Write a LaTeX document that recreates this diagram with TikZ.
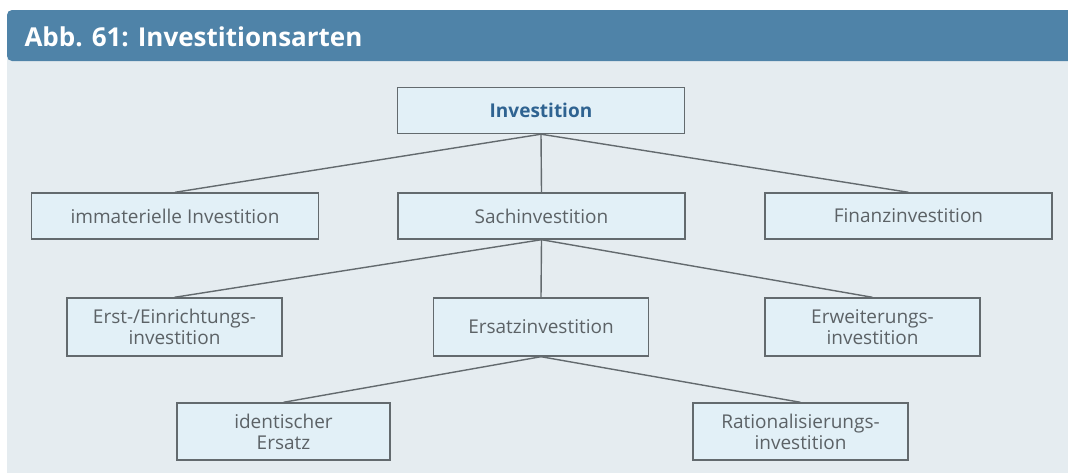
\documentclass[tikz,border=0pt]{standalone}
\usepackage{fontspec}
\setmainfont{Open Sans}
\definecolor{headblue}{HTML}{4F83A8}
\definecolor{panel}{HTML}{E5ECF0}
\definecolor{boxfill}{HTML}{E2F0F7}
\definecolor{boxline}{HTML}{636A6E}
\definecolor{txtgray}{HTML}{5C6266}
\definecolor{rootblue}{HTML}{2F6391}
\begin{document}
\begin{tikzpicture}[x=1pt,y=-1pt,
  box/.style={draw=boxline, line width=1.4pt, fill=boxfill, inner sep=0pt,
    align=center, font=\fontsize{19}{21}\selectfont, text=txtgray},
  wide/.style={box, minimum width=287pt, minimum height=46pt},
  narrow/.style={box, minimum width=215pt, minimum height=58pt},
  link/.style={draw=boxline, line width=1.4pt}]
\useasboundingbox (0,0) rectangle (1068,475);
% panel and title bar
\fill[panel] (7,58) rectangle (1068,473);
\fill[headblue, rounded corners=5pt] (1075,10) -- (7,10) -- (7,61) -- (1075,61);
\node[anchor=base west, text=white, font=\fontsize{26}{28}\bfseries\selectfont] (title)
  at (21,46) {Abb. 61: Investitionsarten};
% tree
\node[wide, font=\fontsize{19}{21}\bfseries\selectfont, text=rootblue] (inv) at (541,110.5) {Investition};
\node[wide] (imm)  at (175,216) {immaterielle Investition};
\node[wide] (sach) at (541.5,216) {Sachinvestition};
\node[wide] (fin)  at (908.5,216) {Finanzinvestition};
\node[narrow] (erst)   at (174.5,327) {Erst-/Einrichtungs-\\investition};
\node[narrow] (ersatz) at (541,327) {Ersatzinvestition};
\node[narrow] (erw)    at (872.5,327) {Erweiterungs-\\investition};
\node[narrow, minimum width=213pt, minimum height=57pt] (ident) at (283.5,431.5) {identischer\\Ersatz};
\node[narrow, minimum height=57pt] (rat) at (800.5,431.5) {Rationalisierungs-\\investition};
% connectors
\foreach \c in {imm,sach,fin} \draw[link] (inv.south) -- (\c.north);
\foreach \c in {erst,ersatz,erw} \draw[link] (sach.south) -- (\c.north);
\foreach \c in {ident,rat} \draw[link] (ersatz.south) -- (\c.north);
\end{tikzpicture}
\end{document}
